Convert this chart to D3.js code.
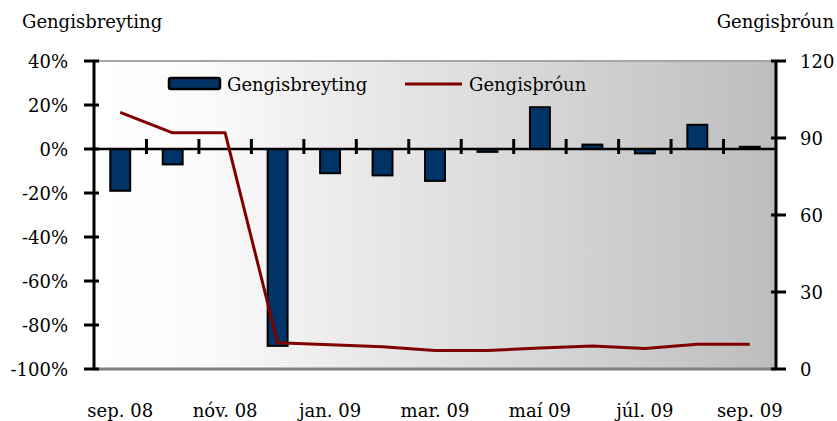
<!DOCTYPE html>
<html>
  <head>
    <meta charset="utf-8" />
    <script src="https://d3js.org/d3.v7.min.js"></script>
    <style>
      html,
      body {
        margin: 0;
        padding: 0;
        background: #fff;
      }
    </style>
  </head>
  <body>
    <div id="chart"></div>
    <script>
      const months = [
        "sep. 08", "okt. 08", "nóv. 08", "des. 08", "jan. 09", "feb. 09",
        "mar. 09", "apr. 09", "maí 09", "jún. 09", "júl. 09", "ágú. 09", "sep. 09",
      ];
      // monthly change, %
      const change = [-19, -7, 0, -89.5, -11, -12, -14.5, -1.3, 19, 2, -2, 11, 1];
      // exchange index
      const index = [100, 92, 92, 10.2, 9.4, 8.7, 7.2, 7.2, 8.2, 9, 8, 9.6, 9.6];
      const leftTicks = [40, 20, 0, -20, -40, -60, -80, -100];
      const rightTicks = [0, 30, 60, 90, 120];
      const shownLabels = ["sep. 08", "nóv. 08", "jan. 09", "mar. 09", "maí 09", "júl. 09", "sep. 09"];

      const width = 837;
      const height = 421;
      const plot = { left: 94, right: 776, top: 61, bottom: 369 };
      const font = "DejaVu Serif";

      const svg = d3
        .select("#chart")
        .append("svg")
        .attr("width", width)
        .attr("height", height)
        .style("font-family", font);

      const x = d3
        .scaleBand()
        .domain(months)
        .range([plot.left, plot.right])
        .paddingInner(0.62)
        .paddingOuter(0.31);
      const xCat = d3.scaleBand().domain(months).range([plot.left, plot.right]);
      const yL = d3.scaleLinear().domain([-100, 40]).range([plot.bottom, plot.top]);
      const yR = d3.scaleLinear().domain([0, 120]).range([plot.bottom, plot.top]);

      // background gradient
      const grad = svg
        .append("defs")
        .append("linearGradient")
        .attr("id", "bg")
        .attr("x1", "0%")
        .attr("x2", "100%");
      grad.append("stop").attr("offset", "0%").attr("stop-color", "#ffffff");
      grad.append("stop").attr("offset", "15%").attr("stop-color", "#fbfbfb");
      grad.append("stop").attr("offset", "100%").attr("stop-color", "#bdbdbd");

      svg
        .append("rect")
        .attr("x", plot.left)
        .attr("y", plot.top)
        .attr("width", plot.right - plot.left)
        .attr("height", plot.bottom - plot.top)
        .attr("fill", "url(#bg)");

      // top and bottom borders
      svg
        .append("line")
        .attr("x1", plot.left)
        .attr("x2", plot.right)
        .attr("y1", plot.top)
        .attr("y2", plot.top)
        .attr("stroke", "#a6a6a6")
        .attr("stroke-width", 2);
      svg
        .append("line")
        .attr("x1", plot.left)
        .attr("x2", plot.right)
        .attr("y1", plot.bottom)
        .attr("y2", plot.bottom)
        .attr("stroke", "#808080")
        .attr("stroke-width", 3);

      // bars
      svg
        .selectAll("rect.bar")
        .data(change)
        .enter()
        .append("rect")
        .attr("class", "bar")
        .attr("x", (d, i) => x(months[i]))
        .attr("width", x.bandwidth())
        .attr("y", (d) => yL(Math.max(0, d)))
        .attr("height", (d) => Math.abs(yL(d) - yL(0)))
        .attr("fill", "#003366")
        .attr("stroke", "#000")
        .attr("stroke-width", 2);

      // zero line with category ticks
      svg
        .append("line")
        .attr("x1", plot.left)
        .attr("x2", plot.right)
        .attr("y1", yL(0))
        .attr("y2", yL(0))
        .attr("stroke", "#000")
        .attr("stroke-width", 2.5);
      svg
        .selectAll("line.cat")
        .data(months.slice(1))
        .enter()
        .append("line")
        .attr("class", "cat")
        .attr("x1", (d) => xCat(d))
        .attr("x2", (d) => xCat(d))
        .attr("y1", yL(0) - 10)
        .attr("y2", yL(0) + 5)
        .attr("stroke", "#000")
        .attr("stroke-width", 3);

      // line series
      const line = d3
        .line()
        .x((d, i) => xCat(months[i]) + xCat.bandwidth() / 2)
        .y((d) => yR(d));
      svg
        .append("path")
        .datum(index)
        .attr("d", line)
        .attr("fill", "none")
        .attr("stroke", "#800000")
        .attr("stroke-width", 3)
        .attr("stroke-linejoin", "round");

      // left axis
      svg
        .append("line")
        .attr("x1", plot.left)
        .attr("x2", plot.left)
        .attr("y1", plot.top)
        .attr("y2", plot.bottom)
        .attr("stroke", "#000")
        .attr("stroke-width", 3);
      svg
        .selectAll("line.lt")
        .data(leftTicks)
        .enter()
        .append("line")
        .attr("x1", plot.left - 10)
        .attr("x2", plot.left + 5)
        .attr("y1", (d) => yL(d))
        .attr("y2", (d) => yL(d))
        .attr("stroke", "#000")
        .attr("stroke-width", 3);
      svg
        .selectAll("text.lt")
        .data(leftTicks)
        .enter()
        .append("text")
        .attr("x", 68)
        .attr("y", (d) => yL(d) + 7)
        .attr("text-anchor", "end")
        .attr("font-size", 18)
        .text((d) => d + "%");

      // right axis
      svg
        .append("line")
        .attr("x1", plot.right)
        .attr("x2", plot.right)
        .attr("y1", plot.top)
        .attr("y2", plot.bottom)
        .attr("stroke", "#000")
        .attr("stroke-width", 3);
      svg
        .selectAll("line.rt")
        .data(rightTicks)
        .enter()
        .append("line")
        .attr("x1", plot.right - 5)
        .attr("x2", plot.right + 10)
        .attr("y1", (d) => yR(d))
        .attr("y2", (d) => yR(d))
        .attr("stroke", "#000")
        .attr("stroke-width", 3);
      svg
        .selectAll("text.rt")
        .data(rightTicks)
        .enter()
        .append("text")
        .attr("x", 800)
        .attr("y", (d) => yR(d) + 7)
        .attr("text-anchor", "start")
        .attr("font-size", 18)
        .text((d) => d);

      // category labels
      svg
        .selectAll("text.cat")
        .data(shownLabels)
        .enter()
        .append("text")
        .attr("x", (d) => xCat(d) + xCat.bandwidth() / 2)
        .attr("y", 417)
        .attr("text-anchor", "middle")
        .attr("font-size", 18)
        .text((d) => d);

      // axis titles
      svg
        .append("text")
        .attr("x", 22)
        .attr("y", 28)
        .attr("font-size", 18)
        .text("Gengisbreyting");
      svg
        .append("text")
        .attr("x", 834)
        .attr("y", 28)
        .attr("text-anchor", "end")
        .attr("font-size", 18)
        .text("Gengisþróun");

      // legend
      const legend = svg.append("g");
      legend
        .append("rect")
        .attr("x", 169)
        .attr("y", 78)
        .attr("width", 51)
        .attr("height", 11)
        .attr("rx", 2)
        .attr("fill", "#003366")
        .attr("stroke", "#000")
        .attr("stroke-width", 2.5);
      legend
        .append("text")
        .attr("x", 227)
        .attr("y", 91)
        .attr("font-size", 18)
        .text("Gengisbreyting");
      legend
        .append("line")
        .attr("x1", 405)
        .attr("x2", 462)
        .attr("y1", 84)
        .attr("y2", 84)
        .attr("stroke", "#800000")
        .attr("stroke-width", 3);
      legend
        .append("text")
        .attr("x", 469)
        .attr("y", 91)
        .attr("font-size", 18)
        .text("Gengisþróun");
    </script>
  </body>
</html>
